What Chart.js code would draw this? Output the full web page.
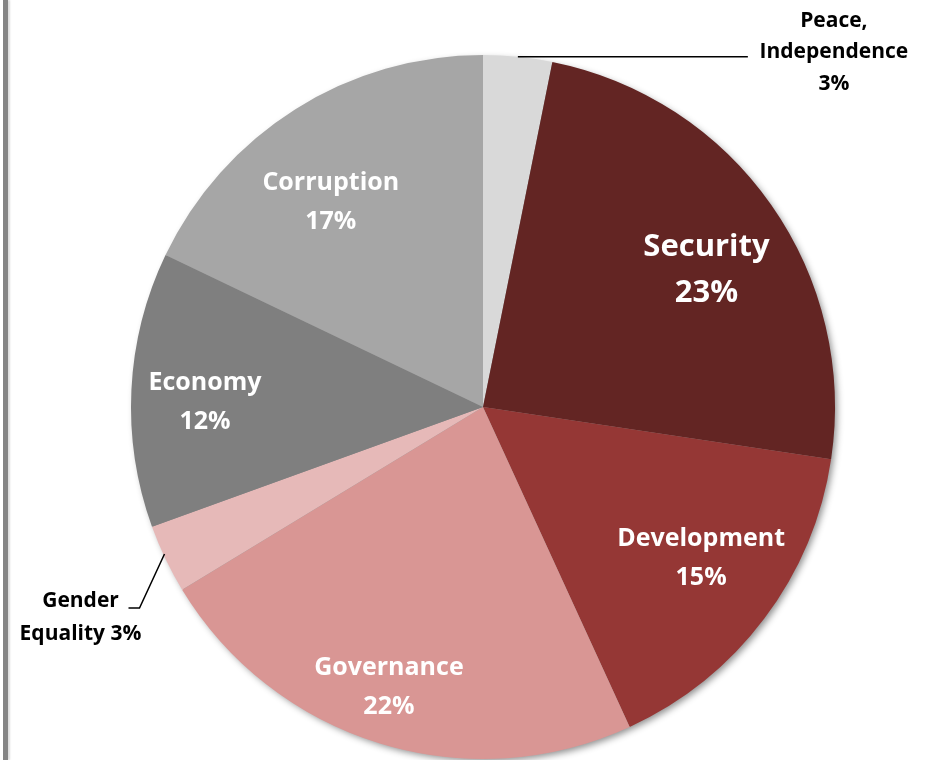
<!DOCTYPE html>
<html>
<head>
<meta charset="utf-8">
<script src="https://cdn.jsdelivr.net/npm/chart.js@4.4.0/dist/chart.umd.min.js"></script>
<style>
  html, body { margin: 0; padding: 0; background: #fff; }
  #wrap { position: relative; width: 928px; height: 760px; }
  #bar { position: absolute; left: 3px; top: 0; width: 5px; height: 760px; background: #858585; box-shadow: 2px 0 2px #ddd; }
</style>
</head>
<body>
<div id="wrap">
  <div id="bar"></div>
  <canvas id="pie" width="928" height="760"></canvas>
</div>
<script>
let labels = ["Peace, Independence", "Security", "Development", "Governance", "Gender Equality", "Economy", "Corruption"];
let values = [3, 23, 15, 22, 3, 12, 17];
let colors = ["#d9d9d9", "#632523", "#953735", "#d99694", "#e6b9b8", "#7f7f7f", "#a6a6a6"];
let textLines = [["Peace,", "Independence", "3%"], ["Security", "23%"], ["Development", "15%"], ["Governance", "22%"], ["Gender", "Equality 3%"], ["Economy", "12%"], ["Corruption", "17%"]];

// inside labels: fraction of radius + small angle nudge (deg); outside labels get leader lines
let labelRadius = [null, 0.745, 0.755, 0.84, null, 0.79, 0.725];
let labelNudge = [0, 3.5, -2.1, 1.5, 0, -1.9, -4.4];
let fontFamily = "'Open Sans', 'DejaVu Sans', sans-serif";

let shadowPlugin = {
    id: "shadow",
    beforeDatasetsDraw(chart) {
        let arc = chart.getDatasetMeta(0).data[0];
        let ctx = chart.ctx;
        ctx.save();
        ctx.shadowColor = "rgba(0,0,0,0.45)";
        ctx.shadowBlur = 7;
        ctx.shadowOffsetX = 3;
        ctx.shadowOffsetY = 3;
        ctx.fillStyle = "#888";
        ctx.beginPath();
        ctx.arc(arc.x, arc.y, arc.outerRadius - 1, 0, Math.PI * 2);
        ctx.fill();
        ctx.restore();
    }
};

let labelPlugin = {
    id: "sliceLabels",
    afterDatasetsDraw(chart) {
        let ctx = chart.ctx;
        let meta = chart.getDatasetMeta(0);
        ctx.save();
        ctx.textAlign = "center";
        ctx.textBaseline = "middle";
        meta.data.forEach((arc, i) => {
            let mid = (arc.startAngle + arc.endAngle) / 2;
            let lines = textLines[i];
            if (labelRadius[i] != null) {
                let a = mid + labelNudge[i] * Math.PI / 180;
                let r = arc.outerRadius * labelRadius[i];
                let x = arc.x + Math.cos(a) * r;
                let y = arc.y + Math.sin(a) * r;
                let big = i == 1;
                ctx.fillStyle = "#fff";
                ctx.font = "bold " + (big ? 31 : 25) + "px " + fontFamily;
                let lh = big ? 46 : 39;
                lines.forEach((t, k) => {
                    ctx.fillText(t, x, y + (k - (lines.length - 1) / 2) * lh);
                });
            } else {
                // point on the rim
                let px = arc.x + Math.cos(mid) * arc.outerRadius;
                let py = arc.y + Math.sin(mid) * arc.outerRadius;
                ctx.strokeStyle = "#000";
                ctx.lineWidth = 1.5;
                ctx.fillStyle = "#000";
                ctx.font = "bold 21px " + fontFamily;
                ctx.beginPath();
                if (i == 0) {
                    ctx.moveTo(px, py);
                    ctx.lineTo(px + 230, py);
                    ctx.stroke();
                    let tx = px + 316, ty = py - 36;
                    lines.forEach((t, k) => ctx.fillText(t, tx, ty + k * 31.5));
                } else {
                    ctx.moveTo(px - 1, py - 5);
                    ctx.lineTo(px - 26, py + 49);
                    ctx.lineTo(px - 37, py + 49);
                    ctx.stroke();
                    let tx = px - 85, ty = py + 42;
                    lines.forEach((t, k) => ctx.fillText(t, tx, ty + k * 33));
                }
            }
        });
        ctx.restore();
    }
};

new Chart("pie", {
    type: "pie",
    data: {
        labels: labels,
        datasets: [{
            data: values,
            backgroundColor: colors,
            borderWidth: 0
        }]
    },
    options: {
        responsive: false,
        animation: false,
        layout: { padding: { left: 131, right: 93, top: 55, bottom: 1 } },
        plugins: {
            legend: { display: false },
            tooltip: { enabled: false }
        }
    },
    plugins: [shadowPlugin, labelPlugin]
});
</script>
</body>
</html>
